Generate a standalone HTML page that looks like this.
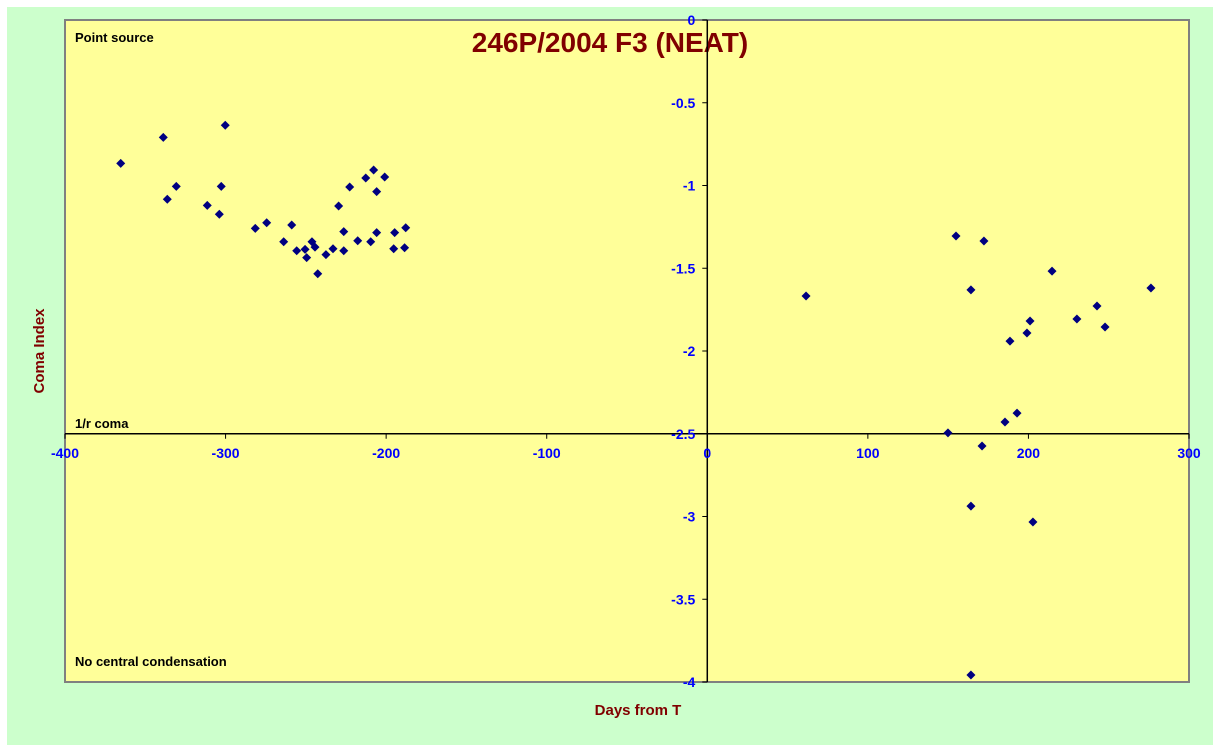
<!DOCTYPE html>
<html><head><meta charset="utf-8"><style>
body{margin:0;background:#fff;}
svg{display:block;font-family:"Liberation Sans",sans-serif;}
</style></head><body>
<svg id="chart" width="1220" height="752">
<rect x="7" y="7" width="1206" height="738" fill="#ccffcc"/>
<rect x="65" y="20" width="1124" height="662" fill="#ffff99" stroke="#808080" stroke-width="2"/>
<text x="610" y="52" text-anchor="middle" font-size="28" font-weight="bold" fill="#800000">246P/2004 F3 (NEAT)</text>
<text x="75" y="42" font-size="13" font-weight="bold" fill="#000">Point source</text>
<text x="75" y="428" font-size="13" font-weight="bold" fill="#000">1/r coma</text>
<text x="75" y="666" font-size="13" font-weight="bold" fill="#000">No central condensation</text>
<text x="638" y="715" text-anchor="middle" font-size="15" font-weight="bold" fill="#800000">Days from T</text>
<text transform="translate(44,351) rotate(-90)" text-anchor="middle" font-size="15" font-weight="bold" fill="#800000">Coma Index</text>
<g id="axes"></g>
<g id="points"></g>
</svg>
<script>
const days=[-365.3,-338.8,-300.2,-330.7,-336.3,-302.7,-311.4,-303.9,-281.5,-274.4,-258.8,-263.8,-255.7,-250.5,-249.5,-246.2,-244.3,-242.6,-237.5,-233.1,-229.6,-226.4,-226.4,-222.7,-217.7,-212.7,-209.6,-207.8,-205.9,-205.9,-200.9,-195.3,-194.7,-188.5,-187.8,
61.5,154.9,172.3,164.2,214.7,276.3,242.7,230.2,247.7,201.0,199.1,188.5,192.9,185.4,149.9,171.1,164.2,202.8,164.2];
const comaIndex=[-0.866,-0.709,-0.636,-1.005,-1.083,-1.005,-1.120,-1.174,-1.259,-1.225,-1.239,-1.340,-1.394,-1.386,-1.436,-1.340,-1.372,-1.533,-1.418,-1.382,-1.124,-1.279,-1.394,-1.009,-1.334,-0.955,-1.340,-0.906,-1.037,-1.285,-0.949,-1.382,-1.285,-1.376,-1.255,
-1.668,-1.305,-1.335,-1.631,-1.517,-1.619,-1.728,-1.807,-1.855,-1.819,-1.891,-1.940,-2.375,-2.429,-2.495,-2.574,-2.937,-3.033,-3.958];
const xTicks=[-400,-300,-200,-100,0,100,200,300];
const yTicks=[0,-0.5,-1,-1.5,-2,-2.5,-3,-3.5,-4];
const yTickLabels=["0","-0.5","-1","-1.5","-2","-2.5","-3","-3.5","-4"];
const NS="http://www.w3.org/2000/svg";
const X=v=>65+(v+400)*1124/700;
const Y=v=>20-v*662/4;
function mk(tag,attrs,parent){const e=document.createElementNS(NS,tag);for(const k in attrs)e.setAttribute(k,attrs[k]);parent.appendChild(e);return e;}
const ax=document.getElementById('axes');
let l=mk('line',{x1:65,x2:1189,y1:Y(-2.5),y2:Y(-2.5),stroke:'#000','stroke-width':1.5},ax);


l=mk('line',{x1:X(0),x2:X(0),y1:20,y2:682,stroke:'#000','stroke-width':1.5},ax);


xTicks.forEach(v=>{
 mk('line',{x1:X(v),x2:X(v),y1:Y(-2.5),y2:Y(-2.5)+5,stroke:'#000'},ax);
 const t=mk('text',{x:X(v),y:Y(-2.5)+24,'text-anchor':'middle','font-size':14,'font-weight':'bold',fill:'#0000ff'},ax);
 t.textContent=v;
 
 
});
yTicks.forEach((v,i)=>{
 mk('line',{x1:X(0)-5,x2:X(0),y1:Y(v),y2:Y(v),stroke:'#000'},ax);
 const t=mk('text',{x:X(0)-12,y:Y(v)+5,'text-anchor':'end','font-size':14,'font-weight':'bold',fill:'#0000ff'},ax);
 t.textContent=yTickLabels[i];
 
 
});
const pg=document.getElementById('points');
days.forEach((d,i)=>{
 const cx=X(d),cy=Y(comaIndex[i]);
 const p=mk('polygon',{points:`${cx},${cy-4.5} ${cx+4.5},${cy} ${cx},${cy+4.5} ${cx-4.5},${cy}`,fill:'#000080'},pg);
 
 
});
</script>
</body></html>
